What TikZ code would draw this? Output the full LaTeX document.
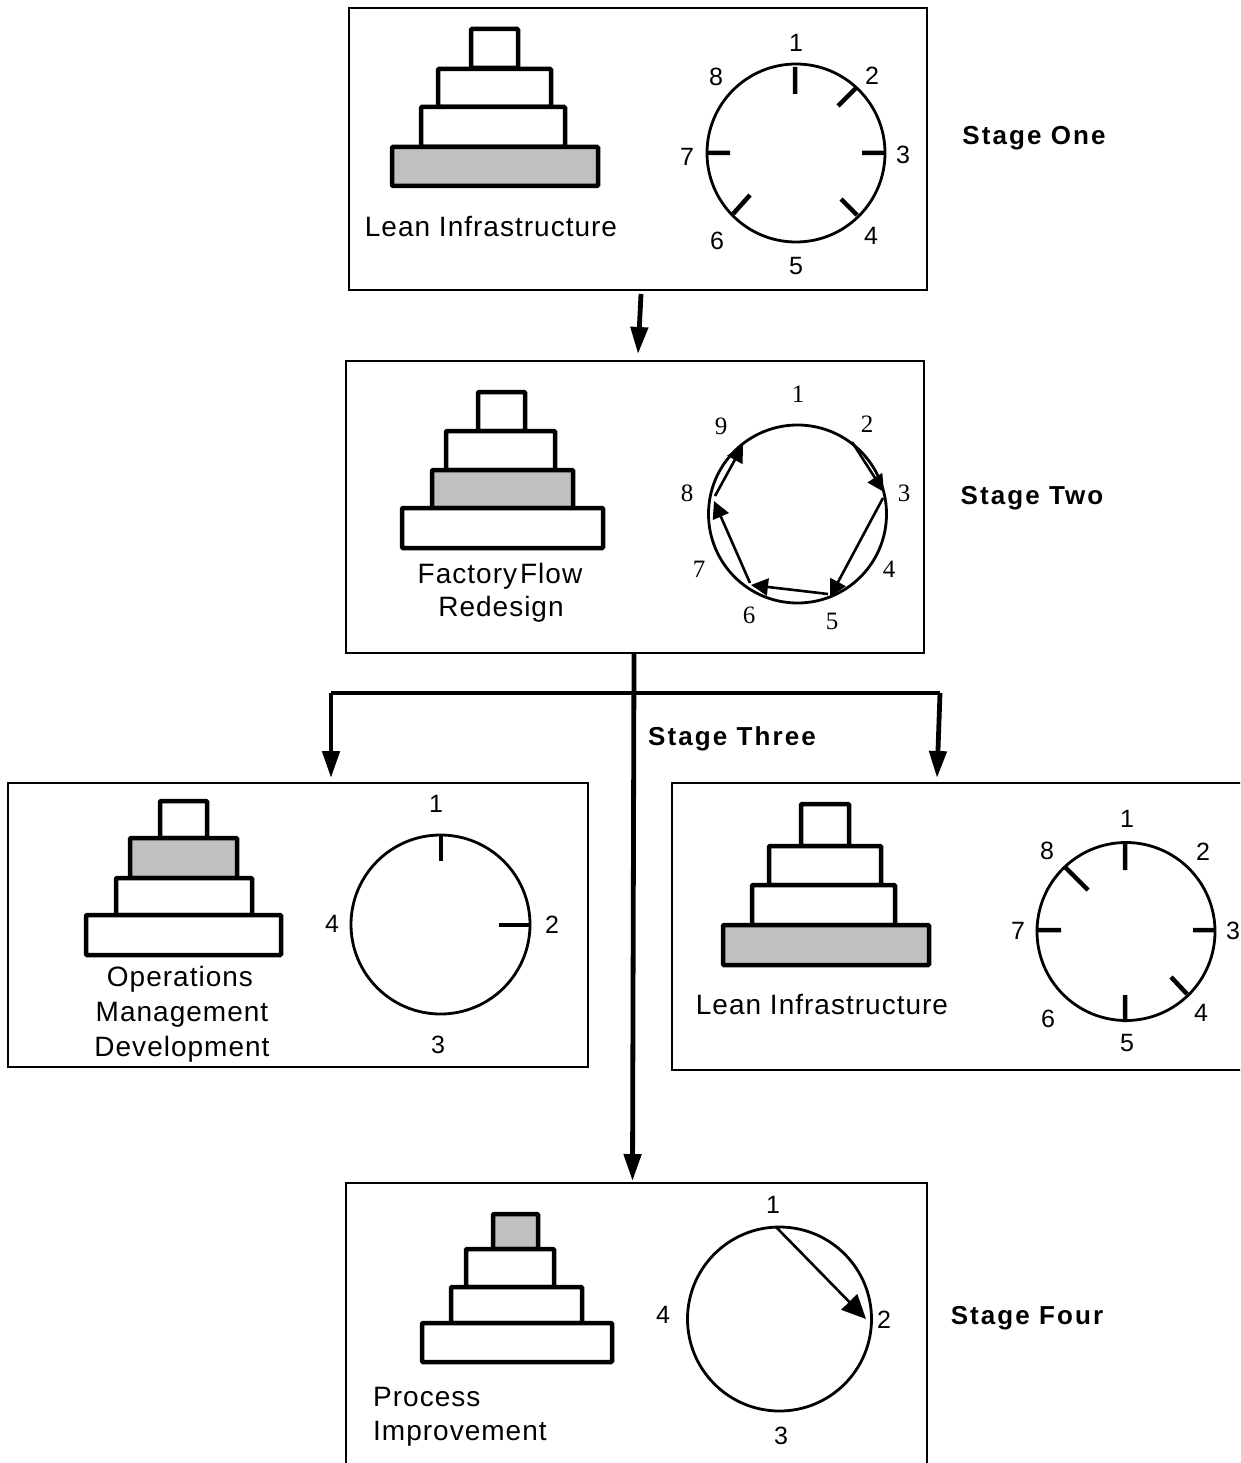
\documentclass[tikz,border=0pt]{standalone}
\usepackage{fontspec}
\usetikzlibrary{arrows.meta}
\setmainfont{Liberation Sans}
\newfontfamily\serifnum{Liberation Serif}
\newfontfamily\trackfont[LetterSpace=3.6]{Liberation Sans}
\newfontfamily\stagefont[LetterSpace=8,BoldFont={Liberation Sans Bold}]{Liberation Sans}
\definecolor{tiergray}{HTML}{C0C0C0}
\newcommand{\rectnode}[6]{%
  \node[#1,minimum width={(#5-#3)*1pt},minimum height={(#6-#4)*1pt}] (#2) at ({(#3+#5)/2},{(#4+#6)/2}) {};}
\newcommand{\clocknode}[4]{%
  \node[clockface,minimum size={2*#4*1pt}] (#1) at (#2,#3) {};}
\tikzset{
  panel/.style={draw=black,line width=2pt,inner sep=0pt,outer sep=0pt,fill=none},
  tier/.style={draw=black,line width=4.5pt,inner sep=0pt,outer sep=0pt,rounded corners=1pt,fill=white},
  graytier/.style={tier,fill=tiergray},
  clockface/.style={circle,draw=black,line width=2.8pt,inner sep=0pt,outer sep=0pt},
  tick/.style={line width=4.5pt},
  num/.style={inner sep=0pt,font=\fontsize{25}{25}\selectfont},
  snum/.style={inner sep=0pt,font=\serifnum\fontsize{25}{25}\selectfont},
  lab/.style={inner sep=0pt,font=\trackfont\fontsize{28}{28}\selectfont},
  stage/.style={inner sep=0pt,font=\stagefont\bfseries\fontsize{26}{26}\selectfont},
  flow/.style={line width=4.8pt,-{Triangle[length=27pt,width=17pt]}},
  bus/.style={line width=4.8pt},
  chord/.style={line width=2.6pt,-{Triangle[length=17pt,width=17pt]}},
}
\begin{document}
\begin{tikzpicture}[x=1pt,y=-1pt]
\useasboundingbox (0,0) rectangle (1240,1463);
\clip (0,0) rectangle (1240,1463);
% panels
\rectnode{panel}{p1}{349}{8}{927}{290}
\rectnode{panel}{p2}{346}{361}{924}{653}
\rectnode{panel}{p3}{8}{783}{588}{1067}
\rectnode{panel}{p4}{672}{783}{1250}{1070}
\rectnode{panel}{p5}{346}{1183}{927}{1480}
% stage one
\rectnode{tier}{a1}{471}{29}{518}{68}
\rectnode{tier}{a2}{438}{69}{551}{107}
\rectnode{tier}{a3}{421}{107}{565}{147}
\rectnode{graytier}{a4}{392}{147}{598}{186}
\node[lab] (la) at (491,227) {Lean Infrastructure};
\clocknode{ca}{796}{153}{89}
\draw[tick] (795,67)--(795,94) (857,87)--(838,106) (862,153)--(884,153)
  (857,215)--(841,199) (733,214)--(750,195) (707,153)--(730,153);
\node[num] (a-n1) at (796,43) {1};
\node[num] (a-n2) at (872,76) {2};
\node[num] (a-n3) at (903,155) {3};
\node[num] (a-n4) at (871,236) {4};
\node[num] (a-n5) at (796,266) {5};
\node[num] (a-n6) at (717,241) {6};
\node[num] (a-n7) at (687,157) {7};
\node[num] (a-n8) at (716,77) {8};
\node[stage] (s1) at (1034,138) {Stage One};
% stage two
\rectnode{tier}{b1}{478}{392}{525}{431}
\rectnode{tier}{b2}{446}{431}{555}{470}
\rectnode{graytier}{b3}{432}{470}{573}{508}
\rectnode{tier}{b4}{402}{508}{603}{548}
\node[lab] (lb1) at (500,576) {\spaceskip=3pt Factory Flow};
\node[lab] (lb2) at (501,609) {Redesign};
\clocknode{cb}{797.5}{514}{89}
\coordinate (m1) at (852,442); \coordinate (m2) at (884,492);
\coordinate (m3) at (883,498); \coordinate (m4) at (830,597);
\coordinate (m5) at (828,594); \coordinate (m6) at (751,585);
\coordinate (m7) at (750,583); \coordinate (m8) at (714,501);
\coordinate (m9) at (715,496); \coordinate (m10) at (743,445);
\draw[chord] (m1)--(m2);
\draw[chord] (m3)--(m4);
\draw[chord] (m5)--(m6);
\draw[chord] (m7)--(m8);
\draw[chord] (m9)--(m10);
\node[snum] (b-n1) at (798,394) {1};
\node[snum] (b-n2) at (867,424) {2};
\node[snum] (b-n3) at (904,493) {3};
\node[snum] (b-n4) at (889,569) {4};
\node[snum] (b-n5) at (832,621) {5};
\node[snum] (b-n6) at (749,615) {6};
\node[snum] (b-n7) at (699,569) {7};
\node[snum] (b-n8) at (687,493) {8};
\node[snum] (b-n9) at (721,426) {9};
\node[stage] (s2) at (1032,498) {Stage Two};
% stage three left
\rectnode{tier}{c1}{160}{801}{207}{838}
\rectnode{graytier}{c2}{130}{838}{237}{878}
\rectnode{tier}{c3}{116}{878}{252}{915}
\rectnode{tier}{c4}{86}{915}{281}{955}
\node[lab] (lc1) at (180,979) {Operations};
\node[lab] (lc2) at (182,1015) {Management};
\node[lab] (lc3) at (182,1049) {Development};
\clocknode{cc}{440.5}{924.5}{89.5}
\draw[tick] (441,834)--(441,861) (499,925)--(530,925);
\node[num] (c-n1) at (436,804) {1};
\node[num] (c-n2) at (552,925) {2};
\node[num] (c-n3) at (438,1045) {3};
\node[num] (c-n4) at (332,924) {4};
% stage three right
\rectnode{tier}{d1}{801}{804}{849}{846}
\rectnode{tier}{d2}{769}{846}{881}{885}
\rectnode{tier}{d3}{752}{885}{895}{925}
\rectnode{graytier}{d4}{723}{925}{929}{965}
\node[lab] (ld) at (822,1004) {Lean Infrastructure};
\clocknode{cd}{1126}{931.5}{89}
\draw[tick] (1125,843)--(1125,870) (1193,930)--(1214,930) (1187,994)--(1171,977)
  (1125,995)--(1125,1022) (1038,930)--(1061,930) (1065,867)--(1088,890);
\node[num] (d-n1) at (1127,819) {1};
\node[num] (d-n2) at (1203,852) {2};
\node[num] (d-n3) at (1233,931) {3};
\node[num] (d-n4) at (1201,1013) {4};
\node[num] (d-n5) at (1127,1043) {5};
\node[num] (d-n6) at (1048,1019) {6};
\node[num] (d-n7) at (1018,931) {7};
\node[num] (d-n8) at (1047,851) {8};
\node[stage] (s3) at (732,739) {Stage Three};
% stage four
\rectnode{graytier}{e1}{493}{1214}{538}{1249}
\rectnode{tier}{e2}{466}{1249}{554}{1287}
\rectnode{tier}{e3}{451}{1287}{582}{1323}
\rectnode{tier}{e4}{422}{1323}{612}{1362}
\node[lab,anchor=west] (le1) at (373,1397) {Process};
\node[lab,anchor=west] (le2) at (373,1434) {Improvement};
\clocknode{ce}{779.5}{1319}{92}
\coordinate (q1) at (776,1227); \coordinate (q2) at (866,1319);
\draw[line width=2.6pt,-{Triangle[length=24pt,width=22pt]}] (q1)--(q2);
\node[num] (e-n1) at (773,1205) {1};
\node[num] (e-n2) at (884,1320) {2};
\node[num] (e-n3) at (781,1436) {3};
\node[num] (e-n4) at (663,1315) {4};
\node[stage] (s4) at (1027,1318) {Stage Four};
% connectors
\coordinate (f1) at (641,294); \coordinate (f2) at (638,354);
\draw[flow] (f1)--(f2);
\coordinate (g0) at (634,653); \coordinate (g1) at (632.5,1181);
\draw[flow] (g0)--(g1);
\coordinate (h1) at (331,693); \coordinate (h2) at (940,693);
\coordinate (h3) at (331,778); \coordinate (h4) at (937,778);
\draw[bus] (h2)--(h1);
\draw[flow] (h1)--(h3);
\draw[flow] (h2)--(h4);
\end{tikzpicture}
\end{document}
